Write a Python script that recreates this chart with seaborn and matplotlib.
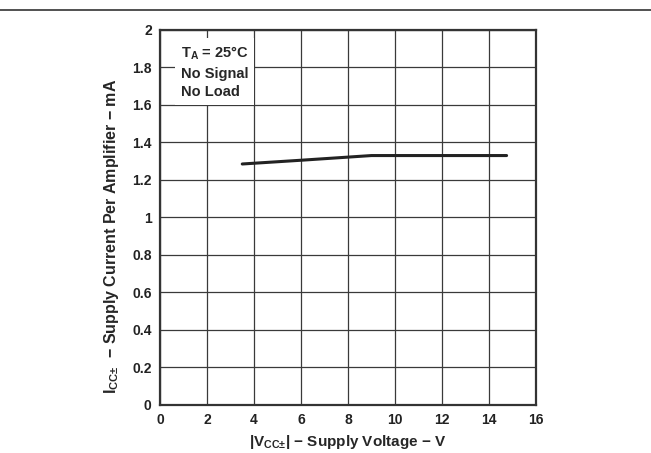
import numpy as np
import pandas as pd
import matplotlib
matplotlib.use("Agg")
import matplotlib.pyplot as plt
import seaborn as sns

supply_v = [3.5, 6.0, 9.0, 12.0, 14.75]
supply_ma = [1.285, 1.305, 1.33, 1.33, 1.33]
x_ticks = [0, 2, 4, 6, 8, 10, 12, 14, 16]
y_ticks = [0, 0.2, 0.4, 0.6, 0.8, 1, 1.2, 1.4, 1.6, 1.8, 2]

df = pd.DataFrame({"v": supply_v, "i": supply_ma})

sns.set_style("white")
plt.rcParams["font.family"] = ["Liberation Sans", "DejaVu Sans"]
plt.rcParams["font.weight"] = "bold"
plt.rcParams["mathtext.fontset"] = "custom"
plt.rcParams["mathtext.rm"] = "Liberation Sans:bold"
plt.rcParams["mathtext.bf"] = "Liberation Sans:bold"
plt.rcParams["mathtext.it"] = "Liberation Sans:bold"
plt.rcParams["mathtext.default"] = "rm"

fig = plt.figure(figsize=(6.51, 4.53), dpi=100)
ax = fig.add_axes([0.2458, 0.106, 0.5775, 0.828])

sns.lineplot(data=df, x="v", y="i", ax=ax, color="#222222", linewidth=2.2)

ax.set_xlim(0, 16)
ax.set_ylim(0, 2)
ax.set_xticks(x_ticks)
ax.set_yticks(y_ticks)
ax.set_xticklabels([f"{t:g}" for t in x_ticks])
ax.set_yticklabels([f"{t:g}" for t in y_ticks])
ax.tick_params(length=0, labelsize=10, pad=6, colors="#222222")
for lab in ax.get_xticklabels() + ax.get_yticklabels():
    lab.set_fontweight("bold")

ax.grid(True, color="#3a3a3a", linewidth=0.9)
for s in ax.spines.values():
    s.set_visible(True)
    s.set_color("#333333")
    s.set_linewidth(1.6)

ax.set_xlabel(r"|V$_{\mathrm{CC±}}$| − Supply Voltage − V", fontsize=11,
              fontweight="bold", labelpad=4)
ax.set_ylabel(r"I$_{\mathrm{CC±}}$  − Supply Current Per Amplifier − mA",
              fontsize=11.5, fontweight="bold")
ax.yaxis.set_label_coords(-0.105, 0.45)

ax.text(0.055, 0.96, "T$_{\\mathrm{A}}$ = 25°C\nNo Signal\nNo Load",
        transform=ax.transAxes, fontsize=10.5, fontweight="bold", va="top",
        ha="left", linespacing=1.4,
        bbox=dict(facecolor="white", edgecolor="none", pad=4))

# rule across the top of the page
fig.add_artist(plt.Line2D([0, 1], [0.978, 0.978], color="#333333",
                          linewidth=1.2, transform=fig.transFigure))

fig.savefig("out.png", dpi=100)
